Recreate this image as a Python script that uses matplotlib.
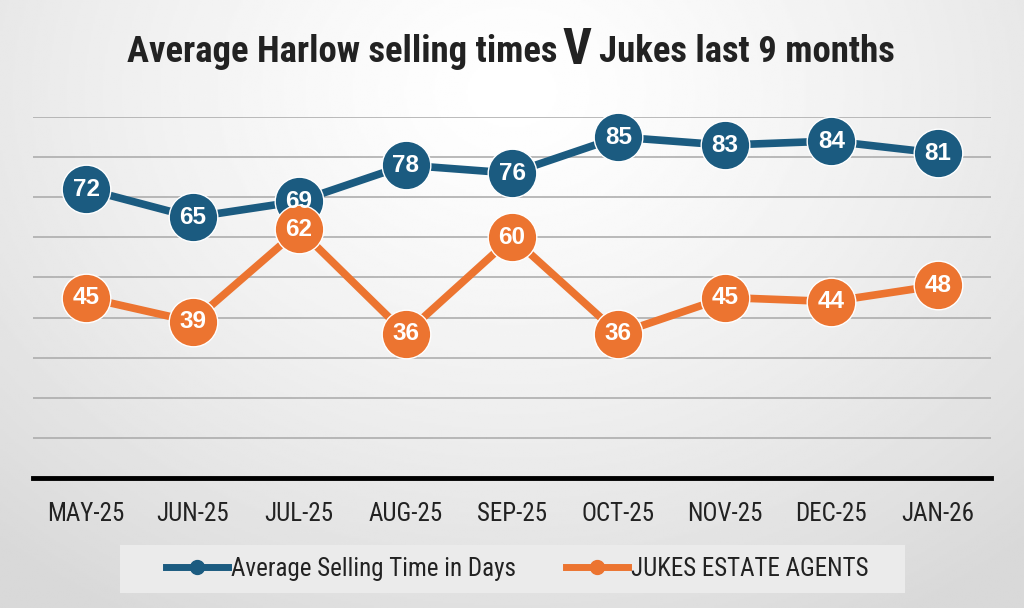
import numpy as np
import matplotlib.pyplot as plt
from matplotlib.lines import Line2D
from matplotlib.patches import Rectangle

months = ["MAY-25", "JUN-25", "JUL-25", "AUG-25", "SEP-25",
          "OCT-25", "NOV-25", "DEC-25", "JAN-26"]
harlow_days = [72, 65, 69, 78, 76, 85, 83, 84, 81]
jukes_days = [45, 39, 62, 36, 60, 36, 45, 44, 48]

BLUE = "#1b5b80"
ORANGE = "#ec7430"
NARROW = ["Roboto Condensed", "Liberation Sans Narrow", "Roboto", "DejaVu Sans"]

fig = plt.figure(figsize=(10.24, 6.08), dpi=100)

# soft radial background, lighter in the middle-top
bg = fig.add_axes([0, 0, 1, 1], zorder=-10)
yy, xx = np.mgrid[0:1:300j, 0:1:500j]
r = np.sqrt(((xx - 0.5) / 0.75) ** 2 + ((yy - 0.15) / 1.0) ** 2)
bg.imshow(1 - 0.15 * np.clip(r, 0, 1) ** 1.3, cmap="gray", vmin=0, vmax=1,
          aspect="auto", extent=[0, 1, 1, 0])
bg.axis("off")

ax = fig.add_axes([33 / 1024, 1 - 478 / 608, 958 / 1024, 361 / 608])
ax.set_facecolor("none")
x = np.arange(len(months))

ax.plot(x, harlow_days, color=BLUE, lw=5.5, marker="o", ms=35,
        mec="white", mew=1.0, clip_on=False, zorder=3)
ax.plot(x, jukes_days, color=ORANGE, lw=5.5, marker="o", ms=35,
        mec="white", mew=1.0, clip_on=False, zorder=4)

for xi, v in zip(x, harlow_days):
    ax.text(xi, v, str(v), ha="center", va="center", color="white",
            fontsize=17.5, fontweight="bold", zorder=5, family="Liberation Sans")
for xi, v in zip(x, jukes_days):
    ax.text(xi, v, str(v), ha="center", va="center", color="white",
            fontsize=17.5, fontweight="bold", zorder=6, family="Liberation Sans")

ax.set_xlim(-0.5, 8.5)
ax.set_ylim(0, 90)
ax.set_yticks(np.arange(10, 91, 10))
ax.yaxis.grid(True, color="#a8a8a8", lw=1.1)
ax.set_axisbelow(True)
ax.tick_params(axis="y", left=False, labelleft=False)
ax.tick_params(axis="x", length=0, pad=17)
ax.set_xticks(x)
ax.set_xticklabels(months, fontsize=18, color="#222222", family=NARROW)
for side in ["top", "right", "left"]:
    ax.spines[side].set_visible(False)
ax.spines["bottom"].set_linewidth(3.5)
ax.spines["bottom"].set_color("black")

# title with a bigger "V"
fig.text(557 / 1024, 1 - 52 / 608, "Average Harlow selling times", ha="right",
         va="center", fontsize=26.5, fontweight="bold", color="#222222",
         family=NARROW)
fig.text(577 / 1024, 1 - 50 / 608, "V", ha="center", va="center",
         fontsize=36, fontweight="bold", color="#222222", family=NARROW)
fig.text(599 / 1024, 1 - 52 / 608, "Jukes last 9 months", ha="left",
         va="center", fontsize=26.5, fontweight="bold", color="#222222",
         family=NARROW)

# legend panel
fig.patches.append(Rectangle((120 / 1024, 1 - 593 / 608), 785 / 1024, 48 / 608,
                             transform=fig.transFigure, facecolor="#ebebeb",
                             edgecolor="none", zorder=1))
handles = [
    Line2D([], [], color=BLUE, lw=5, marker="o", ms=10),
    Line2D([], [], color=ORANGE, lw=5, marker="o", ms=10),
]
leg = fig.legend(handles, ["Average Selling Time in Days", "JUKES ESTATE AGENTS"],
                 loc="center", bbox_to_anchor=(517 / 1024, 1 - 569 / 608),
                 ncol=2, frameon=False,
                 prop={"family": NARROW, "size": 18}, handlelength=2.5,
                 handletextpad=0.1, columnspacing=2.0, borderaxespad=0)
leg.set_zorder(2)
for t in leg.get_texts():
    t.set_color("#222222")

fig.savefig("out.png", dpi=100)
